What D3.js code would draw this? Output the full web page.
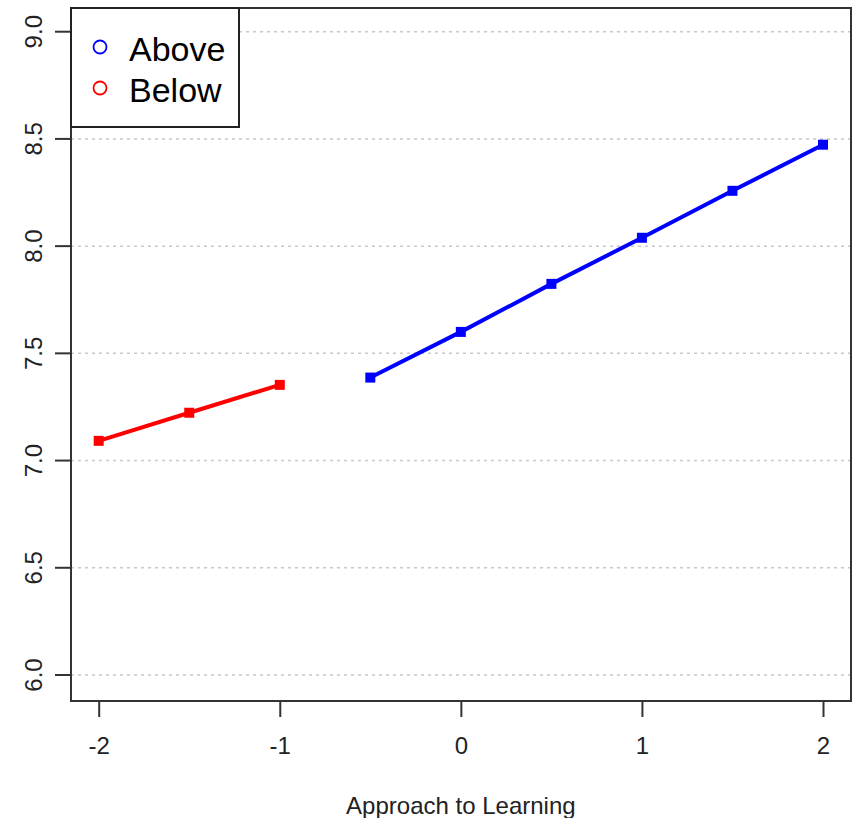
<!DOCTYPE html>
<html>
<head>
<meta charset="utf-8">
<script src="https://cdn.jsdelivr.net/npm/d3@7"></script>
<style>
  body { margin: 0; background: #fff; }
  text { font-family: "Liberation Sans", Arial, sans-serif; fill: #222; }
</style>
</head>
<body>
<svg id="chart" width="856" height="818"></svg>
<script>
// ##### Data
var belowX = [-2, -1.5, -1];
var belowY = [7.092, 7.223, 7.353];
var aboveX = [-0.5, 0, 0.5, 1, 1.5, 2];
var aboveY = [7.387, 7.600, 7.824, 8.039, 8.258, 8.473];
var xTicks = [-2, -1, 0, 1, 2];
var yTicks = [6.0, 6.5, 7.0, 7.5, 8.0, 8.5, 9.0];
var legendLabels = ['Above', 'Below'];
var legendColours = ['#0000ff', '#ff0000'];

// ##### Plot region
var svg = d3.select('#chart');
var box = { left: 71, right: 851, top: 8, bottom: 701 };

// Scales map the axis limits; the box adds R's 4% margin around them
var x = d3.scaleLinear().domain([-2, 2]).range([98.7, 823]);
var y = d3.scaleLinear().domain([6, 9]).range([675, 31.7]);

// Dashed horizontal grid lines
svg.append('g')
  .selectAll('line')
  .data(yTicks)
  .enter()
  .append('line')
  .attr('x1', box.left)
  .attr('x2', box.right)
  .attr('y1', function(d) { return y(d); })
  .attr('y2', function(d) { return y(d); })
  .style('stroke', '#c8c8c8')
  .attr('stroke-width', 1.5)
  .attr('stroke-dasharray', '3,4');

// ##### Axes
var xAxis = d3.axisBottom(x).tickValues(xTicks).tickSize(16).tickPadding(20)
  .tickFormat(function(d) { return String(d); });
var gx = svg.append('g').attr('transform', 'translate(0,' + box.bottom + ')').call(xAxis);
gx.select('.domain').remove();
gx.selectAll('line').style('stroke', '#333').attr('stroke-width', 2);
gx.selectAll('text').style('font-size', '24px').style('fill', '#222')
  .style('font-family', '"Liberation Sans", Arial, sans-serif');

var gy = svg.append('g');
gy.selectAll('line')
  .data(yTicks)
  .enter()
  .append('line')
  .attr('x1', box.left - 16)
  .attr('x2', box.left)
  .attr('y1', function(d) { return y(d); })
  .attr('y2', function(d) { return y(d); })
  .style('stroke', '#333')
  .attr('stroke-width', 2);
gy.selectAll('text')
  .data(yTicks)
  .enter()
  .append('text')
  .attr('transform', function(d) { return 'translate(42,' + y(d) + ') rotate(-90)'; })
  .attr('text-anchor', 'middle')
  .style('font-size', '24px')
  .text(d3.format('.1f'));

// Plot box
svg.append('rect')
  .attr('x', box.left).attr('y', box.top)
  .attr('width', box.right - box.left).attr('height', box.bottom - box.top)
  .attr('fill', 'none').style('stroke', '#333').attr('stroke-width', 2);

// Axis title
svg.append('text')
  .attr('x', x(0)).attr('y', 814)
  .attr('text-anchor', 'middle')
  .style('font-size', '24px')
  .text('Approach to Learning');

// ##### Series
function drawSeries(xs, ys, colour) {
  var pts = xs.map(function(v, i) { return [v, ys[i]]; });
  var line = d3.line().x(function(d) { return x(d[0]); }).y(function(d) { return y(d[1]); });
  svg.append('path').datum(pts)
    .attr('d', line).attr('fill', 'none')
    .style('stroke', colour).attr('stroke-width', 4);
  svg.append('g').selectAll('rect')
    .data(pts).enter().append('rect')
    .attr('x', function(d) { return x(d[0]) - 5; })
    .attr('y', function(d) { return y(d[1]) - 5; })
    .attr('width', 10).attr('height', 10)
    .attr('fill', colour);
}
drawSeries(belowX, belowY, legendColours[1]);
drawSeries(aboveX, aboveY, legendColours[0]);

// ##### Legend
var legend = svg.append('g');
legend.append('rect')
  .attr('x', box.left).attr('y', box.top)
  .attr('width', 168).attr('height', 119)
  .attr('fill', '#fff').style('stroke', '#222').attr('stroke-width', 2);
legendLabels.forEach(function(label, i) {
  legend.append('circle')
    .attr('cx', 100).attr('cy', 47 + i * 41).attr('r', 6.5)
    .attr('fill', 'none').style('stroke', legendColours[i]).attr('stroke-width', 1.8);
  legend.append('text')
    .attr('x', 129).attr('y', 61 + i * 40.5)
    .style('font-size', '34px').style('fill', '#000')
    .text(label);
});
</script>
</body>
</html>
